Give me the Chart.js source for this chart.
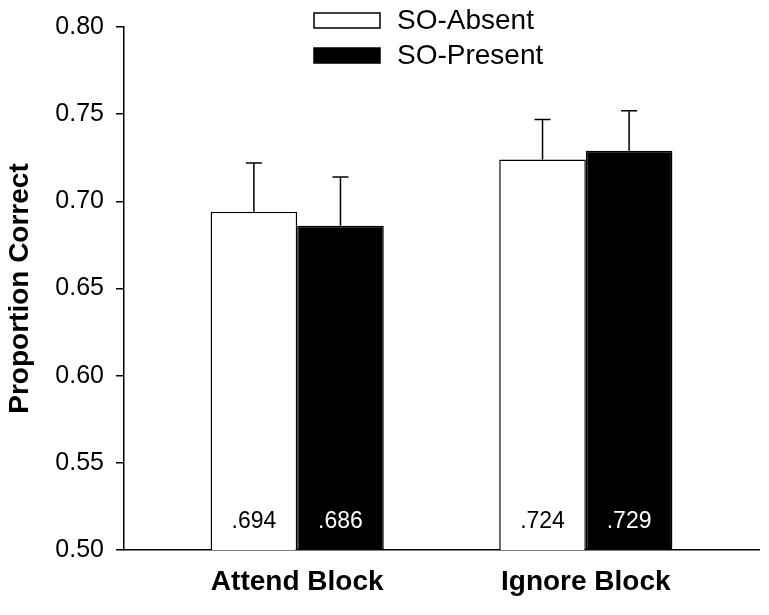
<!DOCTYPE html>
<html>
<head>
<meta charset="utf-8">
<script src="https://cdn.jsdelivr.net/npm/chart.js@4"></script>
<style>
  body { margin: 0; background: #fff; }
  #wrap { width: 769px; height: 615px; position: relative; }
</style>
</head>
<body>
<div id="wrap"><canvas id="chart"></canvas></div>
<script>
const categories = ['Attend Block', 'Ignore Block'];
const positions = [1, 2];
const seriesNames = ['SO-Absent', 'SO-Present'];
const soAbsent = [0.694, 0.724];
const soPresent = [0.686, 0.729];
const soAbsentErr = [0.028, 0.023];
const soPresentErr = [0.028, 0.023];
const valueLabels = [['.694', '.724'], ['.686', '.729']];
const yTicks = [0.50, 0.55, 0.60, 0.65, 0.70, 0.75, 0.80];

const FONT = "'Liberation Sans', Arial, sans-serif";
const errs = [soAbsentErr, soPresentErr];

// error bars (upper only) and value labels in the bars
const barExtras = {
  id: 'barExtras',
  afterDatasetsDraw(chart) {
    const ctx = chart.ctx;
    const y = chart.scales.y;
    ctx.save();
    chart.data.datasets.forEach((ds, di) => {
      const meta = chart.getDatasetMeta(di);
      meta.data.forEach((bar, i) => {
        const top = y.getPixelForValue(ds.data[i].y + errs[di][i]);
        ctx.strokeStyle = '#000';
        ctx.lineWidth = 1.5;
        ctx.beginPath();
        ctx.moveTo(bar.x, bar.y);
        ctx.lineTo(bar.x, top);
        ctx.moveTo(bar.x - 8, top);
        ctx.lineTo(bar.x + 8, top);
        ctx.stroke();

        ctx.fillStyle = di === 0 ? '#000' : '#fff';
        ctx.font = '23px ' + FONT;
        ctx.textAlign = 'center';
        ctx.textBaseline = 'middle';
        ctx.fillText(valueLabels[di][i], bar.x, y.bottom - 28);
      });
    });
    ctx.restore();
  }
};

// legend drawn by hand so it does not push the plot area down
const legendBoxes = {
  id: 'legendBoxes',
  afterDraw(chart) {
    const ctx = chart.ctx;
    ctx.save();
    chart.data.datasets.forEach((ds, di) => {
      const cy = 20 + di * 35;
      ctx.fillStyle = ds.backgroundColor;
      ctx.strokeStyle = '#000';
      ctx.lineWidth = 1.5;
      ctx.fillRect(314, cy - 7, 66, 15);
      ctx.strokeRect(314, cy - 7, 66, 15);
      ctx.fillStyle = '#000';
      ctx.font = '28px ' + FONT;
      ctx.textAlign = 'left';
      ctx.textBaseline = 'middle';
      ctx.fillText(ds.label, 397, cy + 1);
    });
    ctx.restore();
  }
};

const ctx = document.getElementById('chart').getContext('2d');
new Chart(ctx, {
  type: 'bar',
  data: {
    datasets: [
      {
        label: seriesNames[0],
        data: positions.map((x, i) => ({ x, y: soAbsent[i] })),
        backgroundColor: '#ffffff',
        borderColor: '#000000',
        borderWidth: 1.5
      },
      {
        label: seriesNames[1],
        data: positions.map((x, i) => ({ x, y: soPresent[i] })),
        backgroundColor: '#000000',
        borderColor: '#000000',
        borderWidth: 1.5
      }
    ]
  },
  options: {
    responsive: true,
    maintainAspectRatio: false,
    animation: false,
    categoryPercentage: 0.6,
    barPercentage: 1.0,
    layout: { padding: { top: 25, right: 10, left: 0, bottom: 0 } },
    plugins: {
      legend: { display: false },
      tooltip: { enabled: false }
    },
    scales: {
      x: {
        type: 'linear',
        offset: false,
        min: 0.4,
        max: 2.6,
        grid: { display: false, drawTicks: false, offset: false },
        border: { display: true, color: '#000', width: 1.5 },
        afterBuildTicks: (scale) => { scale.ticks = positions.map(v => ({ value: v })); },
        afterFit: (scale) => { scale.height = 65; },
        ticks: {
          padding: 15,
          color: '#000',
          maxRotation: 0,
          autoSkip: false,
          font: { family: FONT, size: 28, weight: 'bold' },
          callback: (v) => categories[positions.indexOf(v)]
        }
      },
      y: {
        min: 0.5,
        max: 0.8,
        afterBuildTicks: (scale) => { scale.ticks = yTicks.map(v => ({ value: v })); },
        afterFit: (scale) => { scale.width = 124; },
        grid: { drawOnChartArea: false, drawTicks: true, tickLength: 8, color: '#000', lineWidth: 1.5 },
        border: { display: true, color: '#000', width: 1.5 },
        ticks: {
          padding: 12,
          color: '#000',
          font: { family: FONT, size: 25 },
          callback: (v) => v.toFixed(2)
        },
        title: {
          display: true,
          text: 'Proportion Correct',
          color: '#000',
          padding: { top: 3, bottom: 0 },
          font: { family: FONT, size: 28, weight: 'bold' }
        }
      }
    }
  },
  plugins: [barExtras, legendBoxes]
});
</script>
</body>
</html>
